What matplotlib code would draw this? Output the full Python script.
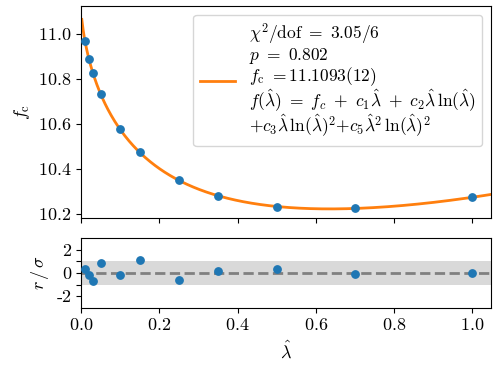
import numpy as np
import matplotlib
matplotlib.use("Agg")
import matplotlib.pyplot as plt

plt.rcParams["font.family"] = "serif"
plt.rcParams["font.serif"] = ["cmr10"]
plt.rcParams["mathtext.fontset"] = "cm"
plt.rcParams["axes.formatter.use_mathtext"] = True
plt.rcParams["axes.unicode_minus"] = False
plt.rcParams["font.size"] = 13

# data
lam = np.array([0.01, 0.02, 0.03, 0.05, 0.10, 0.15, 0.25, 0.35, 0.50, 0.70, 1.00])
fc_vals = np.array([10.969, 10.889, 10.828, 10.733, 10.576, 10.474,
                    10.350, 10.281, 10.232, 10.225, 10.274])
resid = np.array([0.30, -0.15, -0.72, 0.86, -0.15, 1.11,
                  -0.63, 0.14, 0.31, -0.09, 0.03])
fc_fit = 11.1093

legend_text = (r"$\chi^2/\mathrm{dof}\ =\ 3.05/6$" + "\n"
               + r"$p\ =\ 0.802$" + "\n"
               + r"$f_\mathrm{c}\ =11.1093(12)$" + "\n"
               + r"$f(\hat{\lambda})\ =\ f_c\ +\ c_1\hat{\lambda}\ +\ c_2\hat{\lambda}\,\ln(\hat{\lambda})$" + "\n"
               + r"$+c_3\hat{\lambda}\,\ln(\hat{\lambda})^2{+}c_5\hat{\lambda}^2\,\ln(\hat{\lambda})^2$")


def basis(x):
    lx = np.log(x)
    return np.column_stack([x, x * lx, x * lx**2, x**2 * lx**2])


# fit model with f_c fixed to the quoted value
coef, *_ = np.linalg.lstsq(basis(lam), fc_vals - fc_fit, rcond=None)
xs = np.linspace(0.002, 1.05, 600)
ys = fc_fit + basis(xs) @ coef

fig = plt.figure(figsize=(4.98, 3.74), dpi=100)
ax1 = fig.add_axes([0.1627, 0.4165, 0.8233, 0.5675])
ax2 = fig.add_axes([0.1627, 0.1773, 0.8233, 0.1857], sharex=ax1)

ax1.plot(xs, ys, color="#ff7f0e", lw=2, label=legend_text, zorder=2)
ax1.plot(lam, fc_vals, "o", color="#1f77b4", ms=5.3, zorder=3)
ax1.set_ylabel(r"$f_\mathrm{c}$")
ax1.set_xlim(0, 1.048)
ax1.set_ylim(10.181, 11.124)
ax1.set_yticks([10.2, 10.4, 10.6, 10.8, 11.0])
ax1.tick_params(labelbottom=False)
leg = ax1.legend(loc="upper right", fontsize=12.5, handlelength=2.0)
leg.get_texts()[0].set_linespacing(0.95)

ax2.axhspan(-1, 1, color="#d9d9d9", lw=0, zorder=0)
ax2.axhline(0, color="gray", ls="--", lw=2, zorder=1)
ax2.plot(lam, resid, "o", color="#1f77b4", ms=5.3, zorder=3)
ax2.set_ylim(-3, 3)
ax2.set_yticks([-2, -1, 0, 1, 2])
ax2.set_yticklabels(["-2", "", "0", "", "2"])
ax2.set_xticks([0.0, 0.2, 0.4, 0.6, 0.8, 1.0])
ax2.set_ylabel(r"$r\,/\,\sigma$")
ax2.set_xlabel(r"$\hat{\lambda}$")

fig.savefig("out.png", dpi=100)
